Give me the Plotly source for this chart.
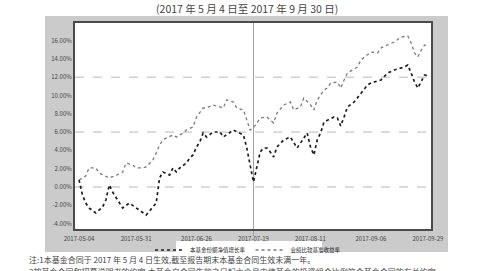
import plotly.graph_objects as go

# ---- data (values in %) ----
fund_dates = ["2017-05-04","2017-05-05","2017-05-08","2017-05-09","2017-05-11","2017-05-12","2017-05-15",
              "2017-05-16","2017-05-17","2017-05-18","2017-05-23","2017-05-25","2017-06-05","2017-06-08",
              "2017-06-09","2017-06-12","2017-06-14","2017-06-15","2017-06-16","2017-06-19","2017-06-21",
              "2017-06-22","2017-06-23","2017-06-26","2017-06-27","2017-06-28","2017-06-29","2017-07-03",
              "2017-07-05","2017-07-06","2017-07-11","2017-07-14","2017-07-17","2017-07-18","2017-07-19",
              "2017-07-20","2017-07-21","2017-07-24","2017-07-25","2017-07-26","2017-07-27","2017-07-28",
              "2017-07-31","2017-08-01","2017-08-03","2017-08-04","2017-08-07","2017-08-08","2017-08-10",
              "2017-08-11","2017-08-14","2017-08-15","2017-08-16","2017-08-17","2017-08-22","2017-08-23",
              "2017-08-24","2017-08-25","2017-08-28","2017-08-30","2017-09-01","2017-09-05","2017-09-06",
              "2017-09-11","2017-09-13","2017-09-15","2017-09-20","2017-09-21","2017-09-22","2017-09-25",
              "2017-09-26","2017-09-27","2017-09-28","2017-09-29"]
fund_values = [0.77,-0.87,-1.75,-2.30,-2.84,-2.51,-2.19,
               -1.42,0.22,-0.55,-2.30,-1.75,-3.06,-1.75,
               0.98,1.64,1.31,2.08,1.64,2.08,2.62,
               3.17,3.50,4.37,4.92,5.90,5.46,6.01,
               6.01,5.46,6.23,5.68,4.26,2.40,0.55,
               2.19,3.83,4.26,4.26,3.83,3.28,4.37,
               4.81,5.14,5.46,4.81,4.26,4.81,5.90,
               4.37,3.50,5.14,5.90,7.10,7.65,7.54,
               6.67,7.65,8.74,9.29,10.27,11.15,11.37,
               11.69,12.46,12.79,13.11,13.33,12.46,11.48,
               10.82,11.48,12.24,12.13]

bench_dates = ["2017-05-04","2017-05-08","2017-05-09","2017-05-11","2017-05-12","2017-05-17","2017-05-22",
               "2017-05-23","2017-05-24","2017-05-26","2017-05-31","2017-06-02","2017-06-05","2017-06-07",
               "2017-06-08","2017-06-09","2017-06-12","2017-06-13","2017-06-15","2017-06-16","2017-06-20",
               "2017-06-21","2017-06-23","2017-06-26","2017-06-28","2017-06-29","2017-07-03","2017-07-06",
               "2017-07-07","2017-07-11","2017-07-12","2017-07-14","2017-07-17","2017-07-18","2017-07-19",
               "2017-07-20","2017-07-21","2017-07-25","2017-07-26","2017-07-27","2017-07-28","2017-08-01",
               "2017-08-03","2017-08-04","2017-08-08","2017-08-09","2017-08-11","2017-08-14","2017-08-15",
               "2017-08-17","2017-08-18","2017-08-21","2017-08-23","2017-08-24","2017-08-25","2017-08-28",
               "2017-08-31","2017-09-01","2017-09-06","2017-09-08","2017-09-11","2017-09-13","2017-09-15",
               "2017-09-19","2017-09-21","2017-09-22","2017-09-25","2017-09-26","2017-09-27","2017-09-28",
               "2017-09-29"]
bench_values = [0.77,1.20,2.08,2.08,1.53,0.98,1.42,
                1.64,2.62,2.40,2.08,2.08,2.19,2.95,
                3.72,4.59,5.14,5.36,5.68,5.46,5.90,
                6.23,6.56,7.65,8.63,8.63,8.96,8.63,
                9.51,9.29,8.63,8.42,7.32,6.23,6.45,
                6.99,7.54,7.65,7.32,6.99,8.09,8.96,
                9.29,8.42,8.74,9.73,8.96,8.42,9.51,
                10.60,10.82,11.37,11.48,10.82,11.69,12.46,
                13.11,13.88,14.75,14.64,15.19,15.52,15.85,
                16.39,16.50,15.74,14.64,14.21,14.97,15.52,
                15.41]

series_names = ["本基金份额净值增长率", "业绩比较基准收益率"]
y_ticks = [-4, -2, 0, 2, 4, 6, 8, 10, 12, 14, 16]
y_ticktext = [f"{v:.2f}%" for v in y_ticks]
x_ticks = ["2017-05-04", "2017-05-31", "2017-06-26", "2017-07-19", "2017-08-11", "2017-09-06", "2017-09-29"]
grid_values = [0, 6, 12]
mid_date = "2017-07-19"
title_text = "(2017 年 5 月 4 日至 2017 年 9 月 30 日)"
note1 = "注:1本基金合同于 2017 年 5 月 4 日生效,截至报告期末本基金合同生效未满一年。"
note2 = "2按基金合同和招募说明书的约定,本基金自合同生效之日起六个月内使基金的投资组合比例符合基金合同的有关约定。"

fig = go.Figure()
fig.add_trace(go.Scatter(x=bench_dates, y=bench_values, mode="lines", name=series_names[1],
                         line=dict(color="#7a7a7a", width=1.3, dash="dot")))
fig.add_trace(go.Scatter(x=fund_dates, y=fund_values, mode="lines", name=series_names[0],
                         line=dict(color="#1e1e1e", width=1.7, dash="dot")))

W, H = 496, 271
L, R, T, B = 75, 65, 23, 42
ph = H - T - B
pw = W - L - R
base = H - B  # pixel y of plot bottom


def px_x(x):
    return (x - L) / pw


def px_y(y):
    return (base - y) / ph


shapes = [
    # gray panel
    dict(type="rect", xref="paper", yref="paper", x0=px_x(45), x1=px_x(448),
         y0=px_y(252), y1=px_y(16), fillcolor="#cbcbcb", line=dict(width=0), layer="below"),
    # white plot area
    dict(type="rect", xref="paper", yref="paper", x0=0, x1=1, y0=0, y1=1,
         fillcolor="white", line=dict(width=0), layer="below"),
    # white legend box
    dict(type="rect", xref="paper", yref="paper", x0=px_x(176), x1=px_x(322),
         y0=px_y(252), y1=px_y(241), fillcolor="white", line=dict(width=0), layer="below"),
]
for g in grid_values:
    shapes.append(dict(type="line", xref="paper", yref="y", x0=0, x1=1, y0=g, y1=g,
                       line=dict(color="#b8b8b8", width=1, dash="dash"), layer="below"))
shapes.append(dict(type="line", xref="x", yref="paper", x0=mid_date, x1=mid_date, y0=px_y(236), y1=1,
                   line=dict(color="#a0a0a0", width=1), layer="below"))

fig.update_layout(
    width=W, height=H,
    margin=dict(l=L, r=R, t=T, b=B, autoexpand=False),
    paper_bgcolor="white", plot_bgcolor="white",
    font=dict(family="Noto Sans CJK SC, Noto Sans, sans-serif", color="#333"),
    shapes=shapes,
    showlegend=True,
    legend=dict(orientation="h", x=px_x(248), xanchor="center", y=px_y(235.5), yanchor="top",
                bgcolor="rgba(0,0,0,0)", font=dict(size=5.5, color="#222"), traceorder="reversed",
                itemwidth=30, tracegroupgap=0, borderwidth=0),
    xaxis=dict(type="date",
               range=["2017-05-02 19:00", "2017-09-29 22:00"],
               rangebreaks=[dict(bounds=["sat", "mon"]), dict(values=["2017-05-29", "2017-05-30"])],
               tickvals=x_ticks, ticktext=x_ticks, tickfont=dict(size=6, color="#444"),
               showgrid=False, zeroline=False, showline=True, mirror=True,
               linecolor="#4a4a4a", linewidth=2, ticks="", ticklabelstandoff=3),
    yaxis=dict(range=[-4.59, 17.92], tickvals=y_ticks, ticktext=y_ticktext,
               tickfont=dict(size=6, color="#444"), showgrid=False, zeroline=False,
               showline=True, mirror=True, linecolor="#4a4a4a", linewidth=2, ticks=""),
    annotations=[
        dict(text=title_text, xref="paper", yref="paper", x=px_x(247), y=px_y(8),
             xanchor="center", yanchor="middle", showarrow=False, font=dict(size=10.5, color="#444")),
        dict(text=note1, xref="paper", yref="paper", x=px_x(27), y=px_y(259),
             xanchor="left", yanchor="middle", showarrow=False, font=dict(size=8.0, color="#444")),
        dict(text=note2, xref="paper", yref="paper", x=px_x(27), y=px_y(271),
             xanchor="left", yanchor="middle", showarrow=False, font=dict(size=8.0, color="#444")),
    ],
)

fig.write_html("out.html", config={"displayModeBar": False},
               post_script="document.body.style.margin='0';document.body.style.overflow='hidden';")
